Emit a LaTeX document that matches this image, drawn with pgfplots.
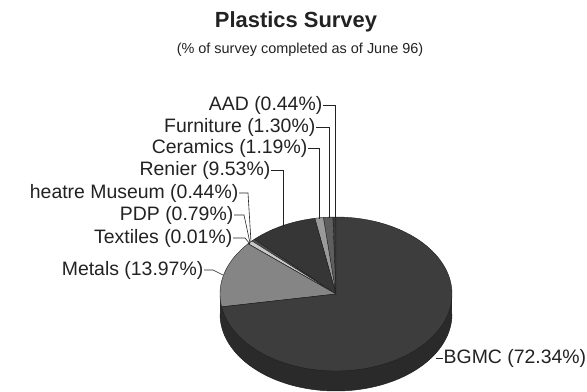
\documentclass[border=0pt]{standalone}
\usepackage{pgfplots}
\pgfplotsset{compat=1.18}
\usepackage{fontspec}
\setmainfont{Liberation Sans}
\definecolor{cBGMC}{HTML}{3D3D3D}
\definecolor{cSide}{HTML}{2A2A2A}
\definecolor{cMetals}{HTML}{858585}
\definecolor{cTextiles}{HTML}{BBBBBB}
\definecolor{cPDP}{HTML}{C8C8C8}
\definecolor{cTheatre}{HTML}{505050}
\definecolor{cRenier}{HTML}{363636}
\definecolor{cCeramics}{HTML}{9A9A9A}
\definecolor{cFurniture}{HTML}{5E5E5E}
\definecolor{cAAD}{HTML}{3A3A3A}
\definecolor{cEdge}{HTML}{1E1E1E}
\definecolor{cText}{HTML}{222222}
% shares in percent (plain data)
\def\pAAD{0.44}
\def\pFurniture{1.30}
\def\pCeramics{1.19}
\def\pRenier{9.53}
\def\pTheatre{0.44}
\def\pPDP{0.79}
\def\pTextiles{0.01}
\def\pMetals{13.97}
\def\pBGMC{72.34}
% geometry of the pie (pixel units)
\pgfmathsetmacro{\cx}{336}
\pgfmathsetmacro{\cy}{294}
\pgfmathsetmacro{\rx}{116}
\pgfmathsetmacro{\ry}{77}
\pgfmathsetmacro{\dd}{20}
% cumulative angles, counter-clockwise from 12 o'clock
\pgfmathsetmacro{\aA}{90}
\pgfmathsetmacro{\aB}{\aA+3.6*\pAAD}
\pgfmathsetmacro{\aC}{\aB+3.6*\pFurniture}
\pgfmathsetmacro{\aD}{\aC+3.6*\pCeramics}
\pgfmathsetmacro{\aE}{\aD+3.6*\pRenier}
\pgfmathsetmacro{\aF}{\aE+3.6*\pTheatre}
\pgfmathsetmacro{\aG}{\aF+3.6*\pPDP}
\pgfmathsetmacro{\aH}{\aG+3.6*\pTextiles}
\pgfmathsetmacro{\aI}{\aH+3.6*\pMetals}
\pgfmathsetmacro{\aJ}{\aI+3.6*\pBGMC}
\newcommand{\lab}{\fontsize{19.5}{23}\selectfont}
\begin{document}
\begin{tikzpicture}
\begin{axis}[
  scale only axis, width=587bp, height=390bp,
  xmin=0, xmax=587, ymin=0, ymax=390, y dir=reverse,
  hide axis, clip=false]
\path (rel axis cs:0,0) rectangle (rel axis cs:1,1);
% side of the pie
\addplot[fill=cSide, draw=none, domain=0:360, samples=120, variable=\t]
  ({\cx+\rx*cos(\t)}, {\cy+\dd-\ry*sin(\t)}) -- cycle;
\addplot[fill=cSide, draw=none] coordinates {(\cx-\rx,\cy) (\cx+\rx,\cy) (\cx+\rx,\cy+\dd) (\cx-\rx,\cy+\dd)} -- cycle;
\addplot[draw=cEdge, line width=0.5pt, domain=180:360, samples=80, variable=\t]
  ({\cx+\rx*cos(\t)}, {\cy+\dd-\ry*sin(\t)});
% top slices
\addplot[fill=cAAD, draw=cEdge, line width=0.4pt, domain=\aA:\aB, samples=4, variable=\t]
  ({\cx+\rx*cos(\t)}, {\cy-\ry*sin(\t)}) -- (\cx,\cy) -- cycle;
\addplot[fill=cFurniture, draw=cEdge, line width=0.4pt, domain=\aB:\aC, samples=6, variable=\t]
  ({\cx+\rx*cos(\t)}, {\cy-\ry*sin(\t)}) -- (\cx,\cy) -- cycle;
\addplot[fill=cCeramics, draw=cEdge, line width=0.4pt, domain=\aC:\aD, samples=6, variable=\t]
  ({\cx+\rx*cos(\t)}, {\cy-\ry*sin(\t)}) -- (\cx,\cy) -- cycle;
\addplot[fill=cRenier, draw=cEdge, line width=0.4pt, domain=\aD:\aE, samples=30, variable=\t]
  ({\cx+\rx*cos(\t)}, {\cy-\ry*sin(\t)}) -- (\cx,\cy) -- cycle;
\addplot[fill=cTheatre, draw=cEdge, line width=0.4pt, domain=\aE:\aF, samples=4, variable=\t]
  ({\cx+\rx*cos(\t)}, {\cy-\ry*sin(\t)}) -- (\cx,\cy) -- cycle;
\addplot[fill=cPDP, draw=cEdge, line width=0.4pt, domain=\aF:\aG, samples=4, variable=\t]
  ({\cx+\rx*cos(\t)}, {\cy-\ry*sin(\t)}) -- (\cx,\cy) -- cycle;
\addplot[fill=cTextiles, draw=cEdge, line width=0.4pt, domain=\aG:\aH, samples=2, variable=\t]
  ({\cx+\rx*cos(\t)}, {\cy-\ry*sin(\t)}) -- (\cx,\cy) -- cycle;
\addplot[fill=cMetals, draw=cEdge, line width=0.4pt, domain=\aH:\aI, samples=40, variable=\t]
  ({\cx+\rx*cos(\t)}, {\cy-\ry*sin(\t)}) -- (\cx,\cy) -- cycle;
\addplot[fill=cBGMC, draw=cEdge, line width=0.4pt, domain=\aI:\aJ, samples=150, variable=\t]
  ({\cx+\rx*cos(\t)}, {\cy-\ry*sin(\t)}) -- (\cx,\cy) -- cycle;
% leader lines
\pgfplotsset{every axis plot/.append style={}}
\addplot[cText, line width=0.6pt] coordinates {(323,105) (335,105) (335,218)};
\addplot[cText, line width=0.6pt] coordinates {(316,127) (329,127) (329,218)};
\addplot[cText, line width=0.6pt] coordinates {(308,148) (319,148) (319,219)};
\addplot[cText, line width=0.6pt] coordinates {(271,170) (283,170) (283,227)};
\addplot[cText, line width=0.6pt] coordinates {(239,193) (248,193) (251,242)};
\addplot[cText, line width=0.6pt] coordinates {(234,215) (244,215) (250,243)};
\addplot[cText, line width=0.6pt] coordinates {(233,238) (245,238) (250,244)};
\addplot[cText, line width=0.6pt] coordinates {(204,270) (213,270) (223,275)};
\addplot[cText, line width=0.6pt] coordinates {(436,358) (443,358)};
% labels
\node[anchor=east, text=cText, font=\lab, inner sep=0.5pt] at (323,105) {AAD (0.44\%)};
\node[anchor=east, text=cText, font=\lab, inner sep=0.5pt] at (316,127) {Furniture (1.30\%)};
\node[anchor=east, text=cText, font=\lab, inner sep=0.5pt] at (308,148) {Ceramics (1.19\%)};
\node[anchor=east, text=cText, font=\lab, inner sep=0.5pt] at (271,170) {Renier (9.53\%)};
\node[anchor=east, text=cText, font=\lab, inner sep=0.5pt] at (239,193) {heatre Museum (0.44\%)};
\node[anchor=east, text=cText, font=\lab, inner sep=0.5pt] at (234,215) {PDP (0.79\%)};
\node[anchor=east, text=cText, font=\lab, inner sep=0.5pt] at (233,238) {Textiles (0.01\%)};
\node[anchor=east, text=cText, font=\lab, inner sep=0.5pt] at (204,270) {Metals (13.97\%)};
\node[anchor=west, text=cText, font=\lab, inner sep=0.5pt] at (443,358) {BGMC (72.34\%)};
% titles
\node[text=cText, font=\fontsize{22}{26}\selectfont\bfseries] at (296,22) {Plastics Survey};
\node[text=cText, font=\fontsize{14.5}{17}\selectfont] at (300,50) {(\% of survey completed as of June 96)};
\end{axis}
\end{tikzpicture}
\end{document}
